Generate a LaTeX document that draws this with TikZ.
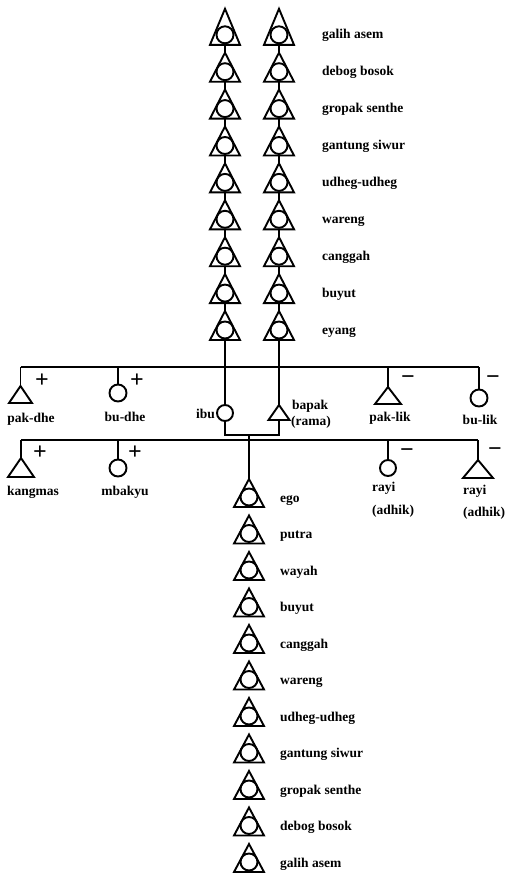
\documentclass[tikz,border=0pt]{standalone}
\usepackage{fontspec}
\setmainfont{Liberation Serif}
\newcommand\KTri[5]{% name, x, ybase, halfwidth, height
  \coordinate (#1-b) at (#2,#3);
  \coordinate (#1-a) at (#2,{#3-#5});
  \draw[sym] ({#2-#4},#3) -- (#1-a) -- ({#2+#4},#3) -- cycle;}
\begin{document}
\begin{tikzpicture}[x=1pt,y=-1pt,
  lk/.style={line width=1.5pt},
  sym/.style={line width=1.9pt, line join=miter},
  circ/.style={circle, draw, line width=1.9pt, inner sep=0pt, minimum size=#1},
  lbl/.style={font=\bfseries\fontsize{13.5}{15}\selectfont, inner sep=0pt},
  sgn/.style={font=\bfseries\fontsize{24}{24}\selectfont, inner sep=0pt}]
\useasboundingbox (0,0) rectangle (505,876);

% ---- ancestors: two columns
\foreach \i/\t in {0/galih asem,1/debog bosok,2/gropak senthe,3/gantung siwur,4/udheg-udheg,5/wareng,6/canggah,7/buyut,8/eyang} {
  \pgfmathsetmacro\yb{44.8+36.9*\i}
  \pgfmathsetmacro\h{ifthenelse(\i==0,36,29)}
  \KTri{L\i}{225}{\yb}{15}{\h}
  \node[circ=17pt] (L\i-c) at (225,\yb-10) {};
  \KTri{R\i}{279}{\yb}{15}{\h}
  \node[circ=17pt] (R\i-c) at (279,\yb-10) {};
  \node[lbl, anchor=base west] (T\i) at (322,\yb-6) {\t};
}
\foreach \i [evaluate=\i as \j using int(\i+1)] in {0,...,7} {
  \draw[lk] (L\i-b) -- (L\j-a);
  \draw[lk] (R\i-b) -- (R\j-a);
}

% ---- parents' generation
\coordinate (h1w) at (20.5,367);
\coordinate (h1e) at (479,367);
\draw[lk] (h1w) -- (h1e);

\KTri{pakdhe}{20.5}{403}{11.5}{17}
\draw[lk] (h1w) -- (pakdhe-a);
\node[sgn] (pakdhe-s) at (42,381) {+};
\node[lbl] (pakdhe-t) at (31,419) {pak-dhe};

\node[circ=17pt] (budhe) at (118,393) {};
\draw[lk] (budhe.north |- h1w) -- (budhe.north);
\node[sgn] (budhe-s) at (137,381) {+};
\node[lbl] (budhe-t) at (125,417) {bu-dhe};

\node[circ=16pt] (ibu) at (225,413) {};
\draw[lk] (L8-b) -- (ibu.north);
\node[lbl, anchor=east] (ibu-t) at (215,414) {ibu};

\KTri{bapak}{279}{420}{10.5}{15}
\draw[lk] (R8-b) -- (bapak-a);
\node[lbl, anchor=base west] (bapak-t) at (292,409) {bapak};
\node[lbl, anchor=base west] (rama-t) at (291,425) {(rama)};

\KTri{paklik}{388}{404}{13}{17}
\draw[lk] (paklik-a |- h1w) -- (paklik-a);
\node[sgn] (paklik-s) at (408,380) {−};
\node[lbl] (paklik-t) at (390,418) {pak-lik};

\node[circ=17pt] (bulik) at (479,398) {};
\draw[lk] (h1e) -- (bulik.north);
\node[sgn] (bulik-s) at (493,380) {−};
\node[lbl] (bulik-t) at (480,420) {bu-lik};

% ---- marriage link and descent
\coordinate (mL) at (225,435);
\coordinate (mR) at (279,435);
\coordinate (mC) at (249,435);
\draw[lk] (ibu.south) -- (mL) -- (mR) -- (bapak-b);

% ---- ego's generation
\coordinate (h2w) at (21,440);
\coordinate (h2e) at (478,440);
\draw[lk] (h2w) -- (h2e);

\KTri{kangmas}{21}{477}{13}{19}
\draw[lk] (h2w) -- (kangmas-a);
\node[sgn] (kangmas-s) at (40,453) {+};
\node[lbl] (kangmas-t) at (33,492) {kangmas};

\node[circ=17pt] (mbakyu) at (118,468) {};
\draw[lk] (mbakyu.north |- h2w) -- (mbakyu.north);
\node[sgn] (mbakyu-s) at (135,453) {+};
\node[lbl] (mbakyu-t) at (125,492) {mbakyu};

\node[circ=16pt] (rayiC) at (388,468) {};
\draw[lk] (rayiC.north |- h2w) -- (rayiC.north);
\node[sgn] (rayiC-s) at (407,453) {−};
\node[lbl, anchor=base west] (rayiC-t) at (372,491) {rayi};
\node[lbl, anchor=base west] (rayiC-t2) at (372,514) {(adhik)};

\KTri{rayiT}{478}{478}{15}{18}
\draw[lk] (h2e) -- (rayiT-a);
\node[sgn] (rayiT-s) at (495,452) {−};
\node[lbl, anchor=base west] (rayiT-t) at (463,494) {rayi};
\node[lbl, anchor=base west] (rayiT-t2) at (463,516) {(adhik)};

% ---- descendants column
\foreach \i/\t in {0/ego,1/putra,2/wayah,3/buyut,4/canggah,5/wareng,6/udheg-udheg,7/gantung siwur,8/gropak senthe,9/debog bosok,10/galih asem} {
  \pgfmathsetmacro\yb{507+36.5*\i}
  \KTri{B\i}{249}{\yb}{15}{28}
  \node[circ=17pt] (B\i-c) at (249,\yb-10) {};
  \node[lbl, anchor=base west] (D\i) at (280,\yb-5) {\t};
}
\draw[lk] (mC) -- (B0-a);
\end{tikzpicture}
\end{document}
